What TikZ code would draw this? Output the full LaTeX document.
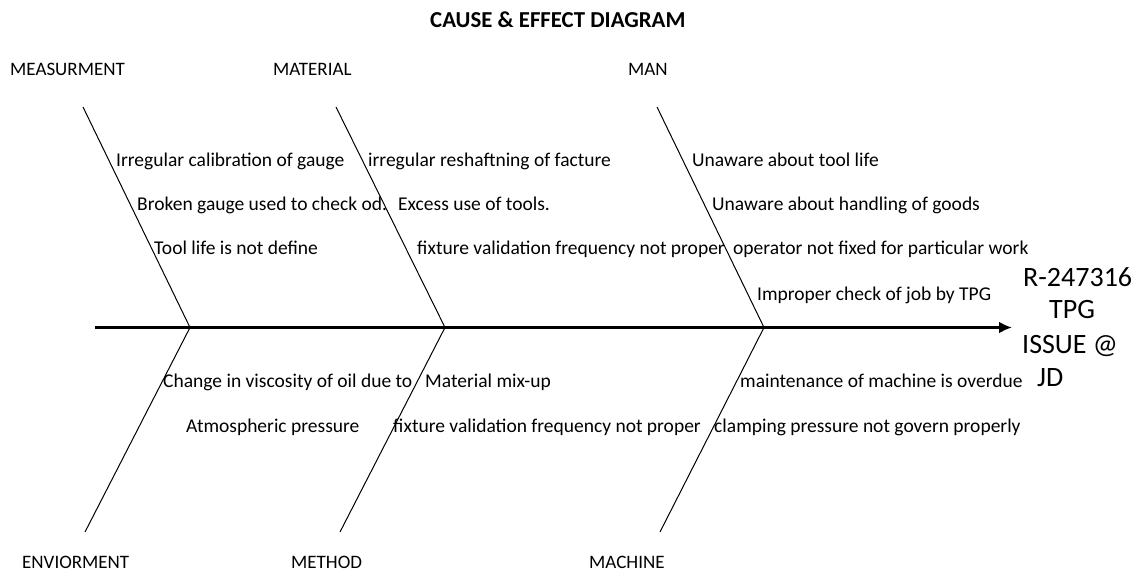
\documentclass[tikz,border=0pt]{standalone}
\usepackage{fontspec}
\setmainfont{Carlito}
\usetikzlibrary{arrows.meta}
\tikzset{
  txt/.style={anchor=base west, inner sep=0pt, font=\fontsize{19.5}{22}\selectfont},
  cat/.style={anchor=base west, inner sep=0pt, font=\fontsize{19}{22}\selectfont},
  ttl/.style={anchor=base west, inner sep=0pt, font=\fontsize{22.8}{25}\selectfont\bfseries},
  headtxt/.style={anchor=base west, inner sep=0pt, font=\fontsize{28}{32}\selectfont},
  bone/.style={draw=black, line width=1pt},
  spine/.style={draw=black, line width=2.6pt, -{Latex[length=13pt,width=12pt]}}
}
\begin{document}
\begin{tikzpicture}[x=1pt,y=-1pt]
\useasboundingbox (0,0) rectangle (1138,571);
% title
\node[ttl] (title) at (430,27) {CAUSE \& EFFECT DIAGRAM};
% category labels
\node[cat] (meas) at (10,75) {MEASURMENT};
\node[cat] (mat) at (273,75) {MATERIAL};
\node[cat] (man) at (628,75) {MAN};
\node[cat] (env) at (22,568) {ENVIORMENT};
\node[cat] (meth) at (291,568) {METHOD};
\node[cat] (mach) at (589,568) {MACHINE};
% coordinates
\coordinate (s0) at (95,327.5);
\coordinate (tip) at (1012,327.5);
\coordinate (j1) at (190,327.5);
\coordinate (j2) at (445,327.5);
\coordinate (j3) at (764,327.5);
\coordinate (t1) at (83,107);
\coordinate (t2) at (336,107);
\coordinate (t3) at (657,107);
\coordinate (b1) at (85,532);
\coordinate (b2) at (340,532);
\coordinate (b3) at (660,532);
% bones
\draw[bone] (t1) -- (j1) -- (b1);
\draw[bone] (t2) -- (j2) -- (b2);
\draw[bone] (t3) -- (j3) -- (b3);
% spine
\draw[spine] (s0) -- (tip);
% head
\node[headtxt] (h1) at (1023,286) {R-247316};
\node[headtxt] (h2) at (1049,318) {TPG};
\node[headtxt] (h3) at (1022,353) {ISSUE @};
\node[headtxt] (h4) at (1037,386) {JD};
% causes top
\node[txt] (c11) at (116,166) {Irregular calibration of gauge};
\node[txt] (c12) at (137,210) {Broken gauge used to check od.};
\node[txt] (c13) at (154,254) {Tool life is not define};
\node[txt] (c21) at (368,166) {irregular reshaftning of facture};
\node[txt] (c22) at (398,210) {Excess use of tools.};
\node[txt] (c23) at (417,254) {fixture validation frequency not proper};
\node[txt] (c31) at (692,166) {Unaware about tool life};
\node[txt] (c32) at (712,210) {Unaware about handling of goods};
\node[txt] (c33) at (733,254) {operator not fixed for particular work};
\node[txt] (c34) at (757,300) {Improper check of job by TPG};
% causes bottom
\node[txt] (d11) at (163,387) {Change in viscosity of oil due to};
\node[txt] (d12) at (186,432) {Atmospheric pressure};
\node[txt] (d21) at (425,387) {Material mix-up};
\node[txt] (d22) at (393,432) {fixture validation frequency not proper};
\node[txt] (d31) at (740,387) {maintenance of machine is overdue};
\node[txt] (d32) at (714,432) {clamping pressure not govern properly};
\end{tikzpicture}
\end{document}
